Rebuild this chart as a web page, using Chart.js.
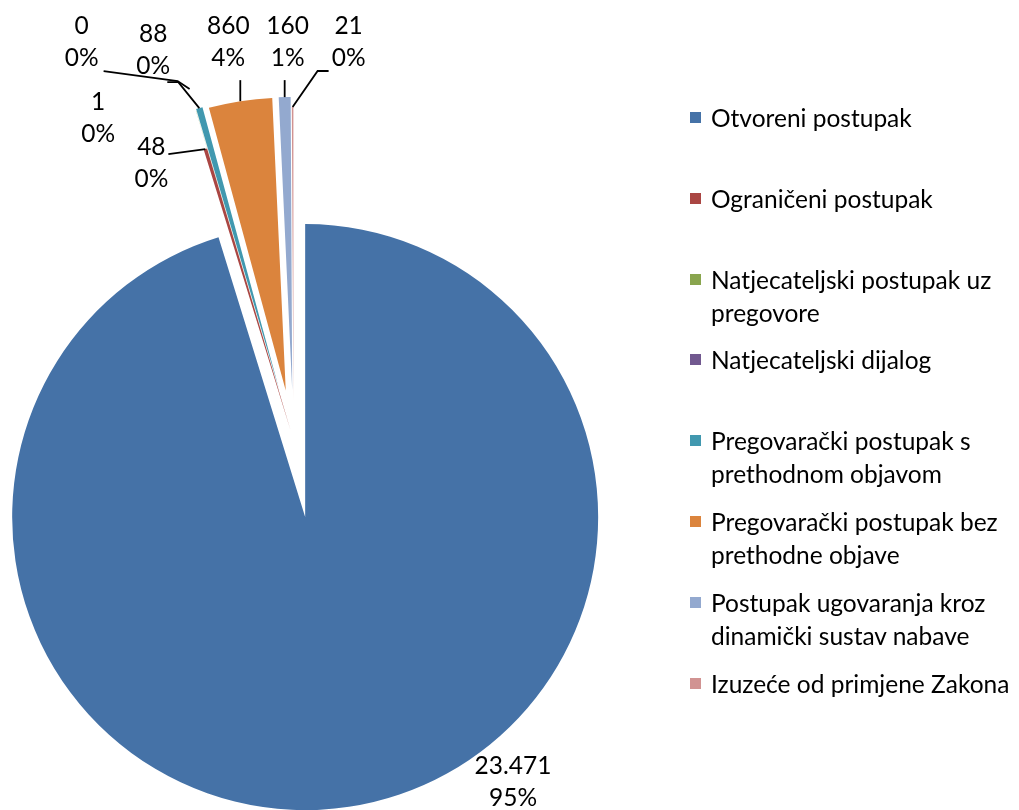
<!DOCTYPE html>
<html>
<head>
<meta charset="utf-8">
<script src="https://cdn.jsdelivr.net/npm/chart.js@4.4.0/dist/chart.umd.min.js"></script>
<style>
  body { margin: 0; background: #fff; }
  #wrap { position: relative; width: 1019px; height: 810px; }
  #legend { position: absolute; left: 690px; top: 0; font-family: Lato, sans-serif; font-size: 24.5px; color: #000; }
  .item { position: absolute; left: 0; width: 329px; }
  .sw { position: absolute; left: 0; top: 11px; width: 11px; height: 11px; }
  .txt { margin-left: 21px; line-height: 33px; width: 308px; }
</style>
</head>
<body>
<div id="wrap">
  <canvas id="pie" width="1019" height="810"></canvas>
  <div id="legend"></div>
</div>
<script>
const categories = [
  'Otvoreni postupak',
  'Ograničeni postupak',
  'Natjecateljski postupak uz pregovore',
  'Natjecateljski dijalog',
  'Pregovarački postupak s prethodnom objavom',
  'Pregovarački postupak bez prethodne objave',
  'Postupak ugovaranja kroz dinamički sustav nabave',
  'Izuzeće od primjene Zakona'
];
const counts = [23471, 48, 1, 0, 88, 860, 160, 21];
const colors = ['#4572A7', '#AA4643', '#89A54E', '#71588F', '#4198AF', '#DB843D', '#93A9CF', '#D19392'];

// how far each slice is pulled out, and where its label sits (relative to the slice's outer edge)
const explode = [78, 11, 50, 73, 52, 50, 50, 40];
const labelShift = [[164, -25], [-54, 14], [-98, 7], [-108, -47], [-46, -58], [-12, -59], [3, -55], [56, -65]];
const leaders = [[], [[-37, 5]], [], [[-12, -8], [-86, -18]], [[-21, -26], [-32, -26]], [[0, -21]], [[0, -17]], [[25, -36], [36, -36]]];

// percentages rounded so they add up to 100 (like Excel)
function percents(vals) {
  const total = vals.reduce((a, b) => a + b, 0);
  const raw = vals.map(v => v / total * 100);
  const out = raw.map(Math.floor);
  let left = 100 - out.reduce((a, b) => a + b, 0);
  raw.map((r, i) => [r - Math.floor(r), i]).sort((a, b) => b[0] - a[0]).forEach(([, i]) => {
    if (left > 0) { out[i]++; left--; }
  });
  return out;
}
const pct = percents(counts);
const fmt = n => String(n).replace(/\B(?=(\d{3})+(?!\d))/g, '.');

const explodePlugin = {
  id: 'explode',
  beforeDatasetsDraw(chart) {
    const a = chart.chartArea;
    const cx = (a.left + a.right) / 2, cy = (a.top + a.bottom) / 2;
    chart.getDatasetMeta(0).data.forEach((arc, i) => {
      const mid = (arc.startAngle + arc.endAngle) / 2;
      arc.x = cx + Math.cos(mid) * explode[i];
      arc.y = cy + Math.sin(mid) * explode[i];
    });
  }
};

const labelPlugin = {
  id: 'sliceLabels',
  afterDatasetsDraw(chart) {
    const ctx = chart.ctx;
    ctx.save();
    ctx.font = '24.5px Lato, sans-serif';
    ctx.fillStyle = '#000';
    ctx.strokeStyle = '#000';
    ctx.lineWidth = 1.8;
    ctx.textAlign = 'center';
    ctx.textBaseline = 'middle';
    chart.getDatasetMeta(0).data.forEach((arc, i) => {
      const mid = (arc.startAngle + arc.endAngle) / 2;
      const ox = arc.x + Math.cos(mid) * arc.outerRadius;
      const oy = arc.y + Math.sin(mid) * arc.outerRadius;
      if (leaders[i].length) {
        ctx.beginPath();
        ctx.moveTo(ox, oy);
        leaders[i].forEach(p => ctx.lineTo(ox + p[0], oy + p[1]));
        ctx.stroke();
      }
      const lx = ox + labelShift[i][0], ly = oy + labelShift[i][1];
      ctx.fillText(fmt(counts[i]), lx, ly - 16);
      ctx.fillText(pct[i] + '%', lx, ly + 16);
    });
    ctx.restore();
  }
};

new Chart(document.getElementById('pie').getContext('2d'), {
  type: 'pie',
  data: {
    labels: categories,
    datasets: [{
      data: counts,
      backgroundColor: colors,
      borderWidth: 0,
      hoverBorderWidth: 0
    }]
  },
  options: {
    responsive: false,
    animation: false,
    events: [],
    layout: { padding: { left: 0, top: 147, right: 432, bottom: 77 } },
    plugins: { legend: { display: false }, tooltip: { enabled: false } }
  },
  plugins: [explodePlugin, labelPlugin]
});

// legend on the right
const legend = document.getElementById('legend');
categories.forEach((c, i) => {
  const item = document.createElement('div');
  item.className = 'item';
  item.style.top = (101 + i * 80.8) + 'px';
  item.innerHTML = '<div class="sw" style="background:' + colors[i] + '"></div><div class="txt"></div>';
  item.querySelector('.txt').textContent = c;
  legend.appendChild(item);
});
</script>
</body>
</html>
